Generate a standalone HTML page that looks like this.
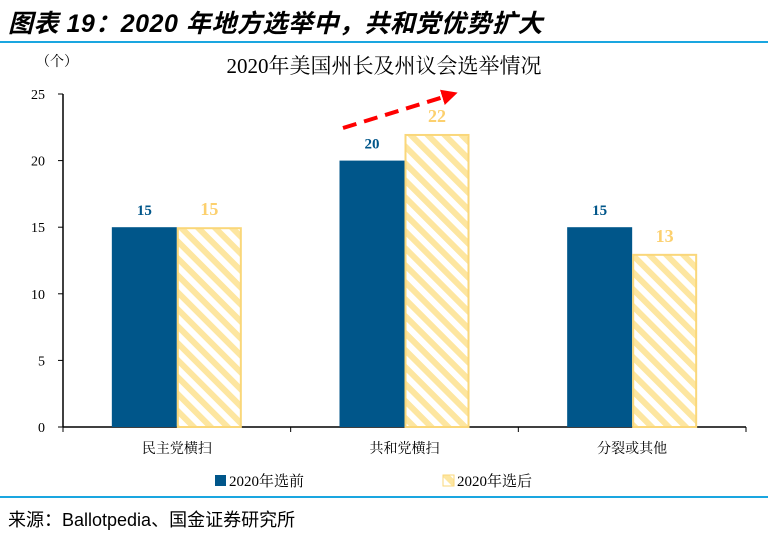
<!DOCTYPE html>
<html><head><meta charset="utf-8"><style>
body{margin:0;width:768px;height:535px;background:#fff;position:relative;overflow:hidden;font-family:"Liberation Serif","Noto Serif CJK SC",serif}
.h{position:absolute;left:8px;top:4px;font:italic bold 25px "Liberation Sans","Noto Sans CJK SC",sans-serif;color:#000;letter-spacing:0.5px}
.line{position:absolute;left:0;width:768px;height:2px;background:#1aa6e0}
.src{position:absolute;left:8px;top:506px;font:18px "Liberation Sans","Noto Sans CJK SC",sans-serif;color:#000}
</style></head><body>
<div class="h">图表 19：2020 年地方选举中，共和党优势扩大</div>
<div class="line" style="top:41px"></div>
<div class="line" style="top:496px"></div>
<div class="src">来源：Ballotpedia、国金证券研究所</div>
<svg id="c" width="768" height="535" style="position:absolute;left:0;top:0">
<defs>
<pattern id="hatch" patternUnits="userSpaceOnUse" width="12" height="12" patternTransform="rotate(-45)">
<rect width="12" height="12" fill="#fff"/><rect width="6" height="12" fill="#fde6a0"/>
</pattern>
<marker id="ah" markerWidth="4" markerHeight="4" refX="2" refY="2" orient="auto"><path d="M0,0L4,2L0,4z" fill="#ff0000"/></marker>
</defs>
</svg>
<script>
const categories=["民主党横扫","共和党横扫","分裂或其他"];
const before=[15,20,15];
const after=[15,22,13];
const ticks=[0,5,10,15,20,25];
const NS="http://www.w3.org/2000/svg",s=document.getElementById('c');
function mk(t,a,txt){const e=document.createElementNS(NS,t);for(const k in a)e.setAttribute(k,a[k]);if(txt!=null)e.textContent=txt;s.appendChild(e);return e;}
const x0=63,x1=746,y0=427,yTop=94,maxV=25;
const y=v=>y0-(y0-yTop)*v/maxV;
const cw=(x1-x0)/categories.length,bw=65;
let e;
e=mk('text',{x:384,y:73,'text-anchor':'middle','font-size':21,fill:'#000'},'2020年美国州长及州议会选举情况');


e=mk('text',{x:57,y:66,'text-anchor':'middle','font-size':14,fill:'#000'},'（个）');


ticks.forEach(t=>{
 e=mk('text',{x:45,y:y(t)+5,'text-anchor':'end','font-size':14,fill:'#000'},t);
 
 
 mk('line',{x1:58,x2:63,y1:y(t),y2:y(t),stroke:'#000'});
});
mk('line',{x1:63,x2:63,y1:yTop,y2:y0,stroke:'#000','stroke-width':1.5});
mk('line',{x1:x0,x2:x1,y1:y0,y2:y0,stroke:'#000','stroke-width':1.5});
for(let i=0;i<=categories.length;i++)mk('line',{x1:x0+cw*i,x2:x0+cw*i,y1:y0,y2:y0+5,stroke:'#000'});
categories.forEach((c,i)=>{
 const cx=x0+cw*(i+0.5);
 e=mk('rect',{x:cx-bw,y:y(before[i]),width:bw,height:y0-y(before[i]),fill:'#00568a'});
 
 
 e=mk('rect',{x:cx+1,y:y(after[i])+1,width:bw-2,height:y0-y(after[i])-1,fill:'url(#hatch)',stroke:'#fad77a','stroke-width':2});
 
 
 e=mk('text',{x:cx-bw/2,y:y(before[i])-12,'text-anchor':'middle','font-size':15,'font-weight':'bold',fill:'#00568a'},before[i]);
 
 
 e=mk('text',{x:cx+bw/2,y:y(after[i])-12,'text-anchor':'middle','font-size':18,'font-weight':'bold',fill:'#fcd06e'},after[i]);
 
 
 e=mk('text',{x:cx,y:453,'text-anchor':'middle','font-size':14,fill:'#000'},c);
 
 
});
e=mk('line',{x1:343,y1:128,x2:450,y2:95,stroke:'#ff0000','stroke-width':4,'stroke-dasharray':'14,8','marker-end':'url(#ah)'});


e=mk('rect',{x:215,y:475,width:11,height:11,fill:'#00568a'});


e=mk('text',{x:229,y:486,'font-size':15,fill:'#000'},'2020年选前');


e=mk('rect',{x:443,y:475,width:11,height:11,fill:'url(#hatch)',stroke:'#fad77a'});


e=mk('text',{x:457,y:486,'font-size':15,fill:'#000'},'2020年选后');


</script>
</body></html>
